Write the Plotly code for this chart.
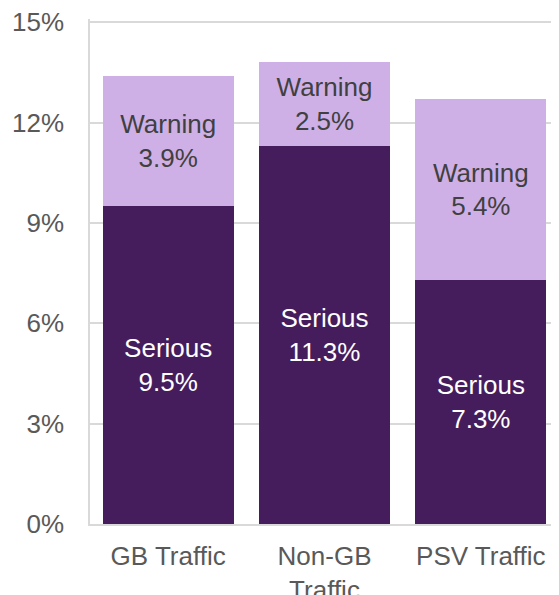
import plotly.graph_objects as go

categories = ["GB Traffic", "Non-GB<br>Traffic", "PSV Traffic"]
serious = [9.5, 11.3, 7.3]
warning = [3.9, 2.5, 5.4]
y_ticks = [0, 3, 6, 9, 12, 15]
y_tick_labels = ["0%", "3%", "6%", "9%", "12%", "15%"]

FONT = "Liberation Sans, Arial, sans-serif"

fig = go.Figure()
fig.add_trace(go.Bar(
    x=categories, y=serious, name="Serious",
    marker=dict(color="#451D5D", line=dict(width=0)),
    text=[f"Serious<br>{v:.1f}%" for v in serious],
    textposition="inside", insidetextanchor="middle",
    textfont=dict(family=FONT, size=26, color="#FFFFFF"),
    hoverinfo="skip",
))
fig.add_trace(go.Bar(
    x=categories, y=warning, name="Warning",
    marker=dict(color="#CFB0E6", line=dict(width=0)),
    text=[f"Warning<br>{v:.1f}%" for v in warning],
    textposition="inside", insidetextanchor="middle",
    textfont=dict(family=FONT, size=26, color="#404040"),
    hoverinfo="skip",
))

fig.update_layout(
    barmode="stack",
    bargap=0.162,
    width=559, height=595,
    margin=dict(l=82, r=8, t=11, b=79),
    paper_bgcolor="white", plot_bgcolor="white",
    showlegend=False,
    uniformtext=dict(minsize=26, mode="show"),
    font=dict(family=FONT, size=26, color="#595959"),
)
fig.update_yaxes(
    range=[0, 15.1], tickvals=y_ticks, ticktext=y_tick_labels,
    showgrid=True, gridcolor="#D9D9D9", gridwidth=1.5,
    showline=True, linecolor="#D9D9D9", linewidth=1.5,
    zeroline=False, ticks="", ticklabelstandoff=19,
    ticklabeloverflow="allow",
    automargin=False,
    tickfont=dict(family=FONT, size=26, color="#595959"),
)
fig.update_xaxes(
    showline=True, linecolor="#D9D9D9", linewidth=1.5,
    ticks="", ticklabelstandoff=8, automargin=False,
    ticklabeloverflow="allow",
    tickfont=dict(family=FONT, size=26, color="#595959"),
)

fig.write_html("out.html")
